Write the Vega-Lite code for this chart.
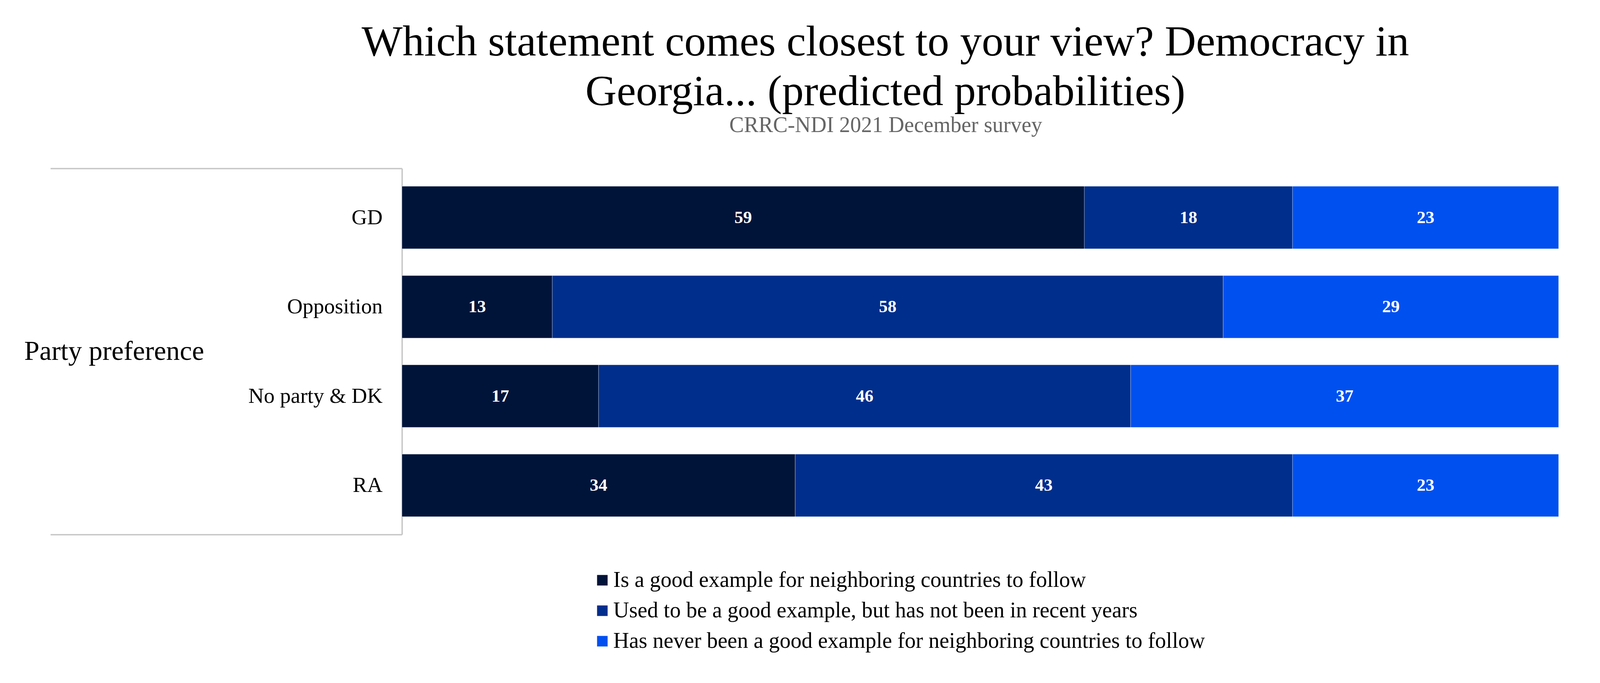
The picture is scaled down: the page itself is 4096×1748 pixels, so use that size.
{
  "$schema": "https://vega.github.io/schema/vega-lite/v6.json",
  "width": 2961,
  "height": 937,
  "autosize": {"type": "none"},
  "padding": {"left": 1029, "top": 431, "right": 106, "bottom": 380},
  "background": "white",
  "title": {
    "text": ["Which statement comes closest to your view? Democracy in", "Georgia... (predicted probabilities)"],
    "anchor": "middle",
    "frame": "group",
    "dx": -243,
    "font": "Liberation Serif",
    "fontSize": 111,
    "fontWeight": "normal",
    "lineHeight": 127,
    "color": "black",
    "offset": 0
  },
  "config": {"view": {"stroke": null}},
  "data": {
    "values": [
      {"party": "GD", "category": "Is a good example for neighboring countries to follow", "option": 1, "value": 59, "group": "Party preference"},
      {"party": "GD", "category": "Used to be a good example, but has not been in recent years", "option": 2, "value": 18, "group": "Party preference"},
      {"party": "GD", "category": "Has never been a good example for neighboring countries to follow", "option": 3, "value": 23, "group": "Party preference"},
      {"party": "Opposition", "category": "Is a good example for neighboring countries to follow", "option": 1, "value": 13, "group": "Party preference"},
      {"party": "Opposition", "category": "Used to be a good example, but has not been in recent years", "option": 2, "value": 58, "group": "Party preference"},
      {"party": "Opposition", "category": "Has never been a good example for neighboring countries to follow", "option": 3, "value": 29, "group": "Party preference"},
      {"party": "No party & DK", "category": "Is a good example for neighboring countries to follow", "option": 1, "value": 17, "group": "Party preference"},
      {"party": "No party & DK", "category": "Used to be a good example, but has not been in recent years", "option": 2, "value": 46, "group": "Party preference"},
      {"party": "No party & DK", "category": "Has never been a good example for neighboring countries to follow", "option": 3, "value": 37, "group": "Party preference"},
      {"party": "RA", "category": "Is a good example for neighboring countries to follow", "option": 1, "value": 34, "group": "Party preference"},
      {"party": "RA", "category": "Used to be a good example, but has not been in recent years", "option": 2, "value": 43, "group": "Party preference"},
      {"party": "RA", "category": "Has never been a good example for neighboring countries to follow", "option": 3, "value": 23, "group": "Party preference"}
    ]
  },
  "layer": [
    {
      "layer": [
        {
          "mark": {"type": "bar", "stroke": "white", "strokeWidth": 1, "strokeOpacity": 0.5},
          "encoding": {
            "y": {
              "field": "party", "type": "nominal",
              "sort": ["GD", "Opposition", "No party & DK", "RA"],
              "scale": {"paddingInner": 0.3, "paddingOuter": 0.2},
              "axis": {"title": null, "ticks": false, "domain": false, "labelFont": "Liberation Serif", "labelFontSize": 55, "labelColor": "black", "labelPadding": 50, "labelLimit": 3000}
            },
            "x": {
              "field": "value", "type": "quantitative", "stack": "zero",
              "scale": {"domain": [0, 100], "nice": false},
              "title": "CRRC-NDI 2021 December survey",
              "axis": {
                "orient": "top", "labels": false, "ticks": false, "domain": false, "grid": false,
                "titleFont": "Liberation Serif", "titleFontSize": 56, "titleFontWeight": "normal", "titleColor": "#666666",
                "titleX": 1238, "titleY": -94, "titleAlign": "center", "titleBaseline": "alphabetic", "titleLimit": 3000
              }
            },
            "color": {
              "field": "category", "type": "nominal",
              "scale": {
                "domain": ["Is a good example for neighboring countries to follow", "Used to be a good example, but has not been in recent years", "Has never been a good example for neighboring countries to follow"],
                "range": ["#00143A", "#002E8C", "#0050F0"]
              },
              "legend": {
                "title": null, "orient": "none", "legendX": 485, "legendY": 1026, "direction": "vertical",
                "symbolType": "square", "symbolSize": 729, "symbolStrokeWidth": 0,
                "labelFont": "Liberation Serif", "labelFontSize": 56, "labelColor": "black", "labelLimit": 3000,
                "labelOffset": 0, "rowPadding": 22, "padding": 0
              }
            },
            "order": {"field": "option", "type": "quantitative"}
          }
        },
        {
          "transform": [
            {"stack": "value", "groupby": ["party"], "sort": [{"field": "option", "order": "ascending"}], "as": ["v0", "v1"]},
            {"fold": ["v0", "v1"], "as": ["edge", "pos"]}
          ],
          "mark": {"type": "text", "color": "white", "font": "Liberation Serif", "fontSize": 45, "fontWeight": "bold", "align": "center", "baseline": "middle"},
          "encoding": {
            "y": {"field": "party", "type": "nominal", "sort": ["GD", "Opposition", "No party & DK", "RA"]},
            "x": {"aggregate": "mean", "field": "pos", "type": "quantitative", "title": "CRRC-NDI 2021 December survey"},
            "text": {"field": "value", "type": "quantitative"},
            "detail": {"field": "category", "type": "nominal"}
          }
        }
      ]
    },
    {
      "mark": {"type": "point", "opacity": 0, "size": 0},
      "encoding": {
        "y": {
          "field": "group", "type": "nominal",
          "scale": {"type": "band", "paddingInner": 0, "paddingOuter": 0},
          "axis": {
            "orient": "left", "title": null, "tickBand": "extent", "tickSize": 900, "tickColor": "#c6c6c6", "tickWidth": 3.5,
            "domainColor": "#c6c6c6", "domainWidth": 3.5,
            "labelFont": "Liberation Serif", "labelFontSize": 70, "labelColor": "black", "labelPadding": -393, "labelLimit": 3000
          }
        }
      }
    }
  ],
  "resolve": {"scale": {"y": "independent"}, "axis": {"y": "independent"}}
}
